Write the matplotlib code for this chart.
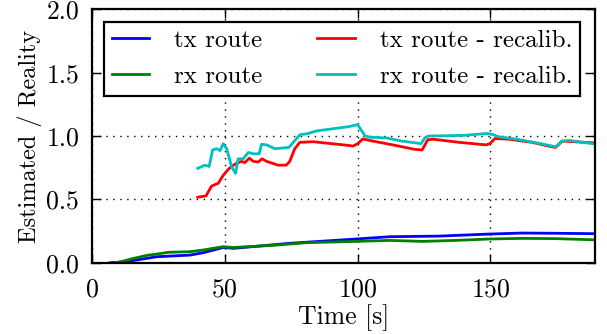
import matplotlib
matplotlib.use("Agg")
import matplotlib.pyplot as plt

plt.rcParams["font.family"] = ["cmr10", "DejaVu Serif"]
plt.rcParams["axes.formatter.use_mathtext"] = True
plt.rcParams["mathtext.fontset"] = "cm"

# tx route
tx_t = [7, 12, 18.3, 24.5, 37, 42, 49.5, 53.3, 74.5, 99.5, 112, 130.8, 149.5, 162, 174.5, 190]
tx_v = [0, 0.005, 0.026, 0.047, 0.06, 0.079, 0.12, 0.113, 0.153, 0.187, 0.205, 0.21, 0.226, 0.234, 0.232, 0.229]

# rx route
rx_t = [9, 12, 15.8, 20.8, 24.5, 28.9, 37, 42, 47, 49.5, 53.3, 68.3, 80.8, 99.5, 112, 124.5, 137, 149.5, 162, 174.5, 190]
rx_v = [0, 0.013, 0.034, 0.058, 0.068, 0.082, 0.087, 0.1, 0.118, 0.126, 0.12, 0.137, 0.158, 0.168, 0.176, 0.168, 0.176, 0.187, 0.192, 0.19, 0.18]

# tx route - recalib.
txr_t = [39.9, 43, 45.1, 47.6, 49.5, 51.4, 52.6, 54.5, 56.4, 57.6, 59.3, 60.8, 62.6, 64.1, 65.8,
         70.1, 73.2, 74.5, 76.4, 78.3, 83.3, 97, 98.3, 100.1, 102, 105.8, 113.3, 121.4, 124.3,
         126.4, 128.3, 138.3, 148.3, 149.8, 151.7, 157, 165.7, 172, 174.5, 177, 190]
txr_v = [0.517, 0.527, 0.605, 0.627, 0.69, 0.737, 0.76, 0.785, 0.80, 0.79, 0.825, 0.80, 0.795, 0.82, 0.80,
         0.77, 0.77, 0.80, 0.90, 0.95, 0.955, 0.925, 0.92, 0.94, 0.977, 0.96, 0.93, 0.895, 0.89,
         0.97, 0.975, 0.95, 0.93, 0.94, 0.98, 0.975, 0.95, 0.92, 0.91, 0.96, 0.945]

# rx route - recalib.
rxr_t = [39.9, 42.6, 44.2, 45.5, 47, 48.3, 49.5, 50.8, 52.6, 54.1, 55.1, 57, 58.9, 60.8, 63, 63.9,
         65.8, 68.9, 74.2, 78.3, 81.4, 84.5, 97, 100, 102.9, 105, 110.9, 116.7, 123.9, 125.4,
         126.8, 139.9, 148.6, 150.7, 152.9, 160, 168.8, 174.6, 176.8, 179.7, 190]
rxr_v = [0.745, 0.77, 0.76, 0.89, 0.90, 0.885, 0.94, 0.90, 0.76, 0.705, 0.82, 0.82, 0.87, 0.86, 0.86, 0.935,
         0.93, 0.90, 0.91, 1.01, 1.02, 1.04, 1.075, 1.09, 1.0, 0.99, 0.985, 0.96, 0.94, 0.987,
         1.0, 1.005, 1.02, 1.013, 0.995, 0.975, 0.94, 0.915, 0.96, 0.965, 0.935]

fig = plt.figure(figsize=(6.07, 3.34), dpi=100)
ax = fig.add_axes([0.151, 0.2135, 0.83, 0.7585])

lw = 2.0
ax.plot(tx_t, tx_v, color="#0000ff", lw=lw, label="tx route")
ax.plot(rx_t, rx_v, color="#008000", lw=lw, label="rx route")
ax.plot(txr_t, txr_v, color="#ff0000", lw=lw, label="tx route - recalib.")
ax.plot(rxr_t, rxr_v, color="#00bfbf", lw=lw, label="rx route - recalib.")

ax.set_xlim(0, 189.5)
ax.set_ylim(0, 2.0)
ax.set_xticks([0, 50, 100, 150])
ax.set_yticks([0.0, 0.5, 1.0, 1.5, 2.0])
ax.set_yticklabels(["0.0", "0.5", "1.0", "1.5", "2.0"])
ax.grid(True, color="black", linestyle=(0, (1, 4)), linewidth=1.0)
ax.tick_params(direction="in", length=6.5, width=1.0, top=True, right=True,
               labelsize=18.5)
ax.tick_params(axis="x", pad=11)
ax.tick_params(axis="y", pad=9)
for s in ax.spines.values():
    s.set_linewidth(1.6)

ax.set_xlabel("Time [s]", fontsize=18.5, labelpad=2)
ax.set_ylabel("Estimated / Reality", fontsize=17.5, labelpad=3)

leg = ax.legend(ncol=2, loc="upper center", fontsize=18, fancybox=False,
                edgecolor="black", framealpha=1, handlelength=1.5,
                handletextpad=1.0, columnspacing=2.2, borderpad=0.3,
                labelspacing=0.55, bbox_to_anchor=(0.497, 1.0))
leg.get_frame().set_linewidth(1.6)

fig.savefig("out.png", dpi=100)
